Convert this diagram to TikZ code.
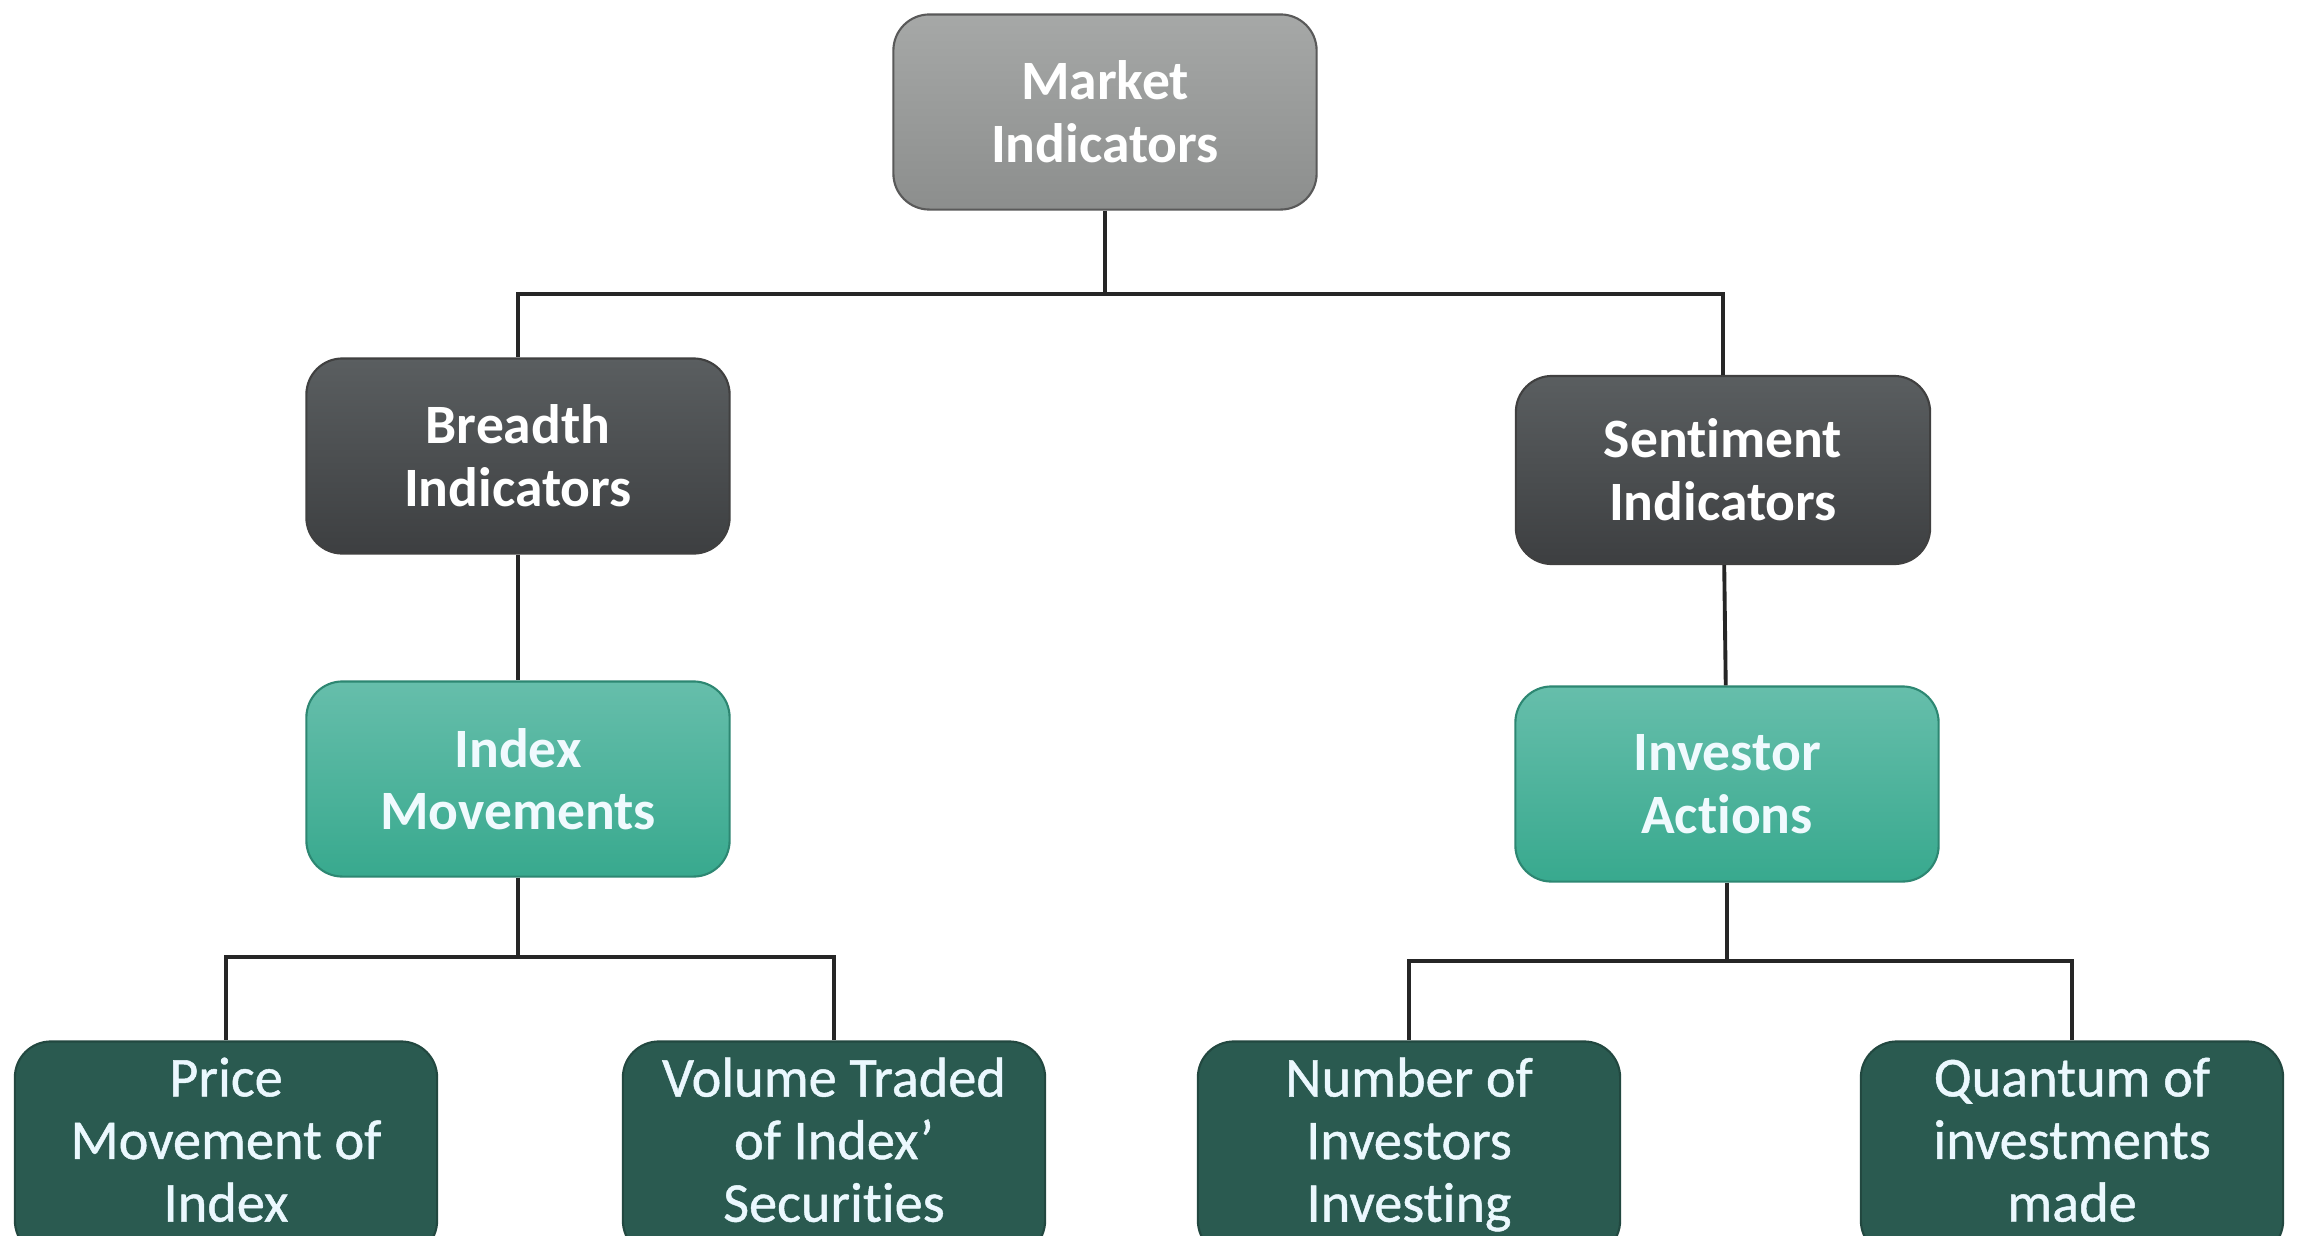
\documentclass[tikz,border=0pt]{standalone}
\usepackage{fontspec}
\setmainfont[Ligatures=NoCommon]{Carlito}
\newfontfamily\leaffont[Ligatures=NoCommon, FakeBold=0.8]{Carlito}
\usepackage{tikz}

\definecolor{rootTop}{HTML}{A6A8A7}
\definecolor{rootBot}{HTML}{8C8E8D}
\definecolor{darkTop}{HTML}{5A5E60}
\definecolor{darkBot}{HTML}{3D3F41}
\definecolor{tealTop}{HTML}{66BEAB}
\definecolor{tealBot}{HTML}{38A98E}
\definecolor{leafGreen}{HTML}{2A5A50}

\tikzset{
	box/.style={rounded corners=0.36cm, draw=#1, line width=0.6pt, align=center,
		text=white, font=\bfseries\fontsize{15.8}{17.8}\selectfont,
		minimum width=4.23cm, minimum height=1.95cm, inner sep=0pt},
	rootbox/.style={box=black!65, top color=rootTop, bottom color=rootBot},
	darkbox/.style={box=black!75, top color=darkTop, bottom color=darkBot},
	tealbox/.style={box=tealBot!80!black, top color=tealTop, bottom color=tealBot, text=white!94!cyan},
	leafbox/.style={box=leafGreen!80!black, fill=leafGreen, text=white!92!cyan,
		font=\leaffont\fontsize{16}{17.8}\selectfont},
	link/.style={draw=black!85, line width=1.1pt}
}

\begin{document}
\begin{tikzpicture}[x=0.01cm, y=-0.01cm]
			\clip (0, 0) rectangle (2305, 1236);
			\fill[white] (0, 0) rectangle (2305, 1236);
			% top of the tree
			\node[rootbox] (market) at (1105, 112) {Market\\Indicators};
			\node[darkbox] (breadth) at (518, 456) {Breadth\\Indicators};
			\node[darkbox, minimum width=4.14cm, minimum height=1.88cm] (sentiment) at (1723, 470) {Sentiment\\Indicators};
			\node[tealbox] (index) at (518, 779) {Index\\Movements};
			\node[tealbox] (investor) at (1727, 784) {Investor\\Actions};
			% leaves, bottom row (they run off the lower edge)
			\foreach \name/\x/\txt in {price/226/{Price\\Movement of\\Index}, volume/834/{Volume Traded\\of Index’\\Securities}, number/1409/{Number of\\Investors\\Investing}, quantum/2072/{Quantum of\\investments\\made}}
			\node[leafbox, minimum width=4.22cm, minimum height=2.15cm] (\name) at (\x, 1149) {\txt\strut};
			% connectors
			\coordinate (topbus) at (1105, 294);
			\coordinate (leftbus) at (518, 957);
			\coordinate (rightbus) at (1727, 961);
			\path[link] (market) -- (topbus) -| (breadth);
			\path[link] (topbus) -| (sentiment);
			\path[link] (breadth) -- (index);
			\path[link] (sentiment) -- (investor);
			\path[link] (index) -- (leftbus) -| (price);
			\path[link] (leftbus) -| (volume);
			\path[link] (investor) -- (rightbus) -| (number);
			\path[link] (rightbus) -| (quantum);
			\end{tikzpicture}
\end{document}
